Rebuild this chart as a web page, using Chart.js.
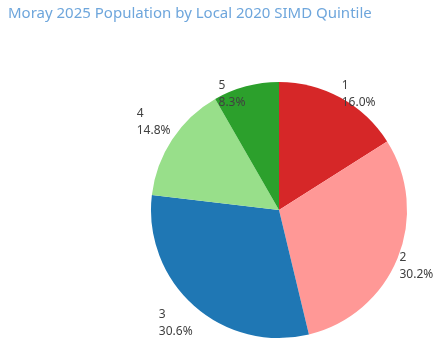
<!DOCTYPE html>
<html>
<head>
<meta charset="utf-8">
<script src="https://cdn.jsdelivr.net/npm/chart.js@4"></script>
<style>
  html, body { margin: 0; padding: 0; background: #fff; }
  #wrap { width: 447px; height: 349px; position: relative; }
</style>
</head>
<body>
<div id="wrap"><canvas id="myChart"></canvas></div>
<script>
const titulo = "Moray 2025 Population by Local 2020 SIMD Quintile"
const quintiles = ["1", "2", "3", "4", "5"]
const porcentajes = [16.0, 30.2, 30.6, 14.8, 8.3]
const colores = ["#d62728", "#ff9896", "#1f77b4", "#98df8a", "#2ca02c"]

// title in the top left corner, outside the chart area
const tituloPlugin = {
    id: "tituloPlugin",
    afterDraw(chart) {
        const ctx = chart.ctx
        ctx.save()
        ctx.font = "15px 'Noto Sans'"
        ctx.fillStyle = "#6ea6dc"
        ctx.textAlign = "left"
        ctx.textBaseline = "alphabetic"
        ctx.fillText(titulo, 8, 18)
        ctx.restore()
    }
}

// "quintile / percent" labels next to each slice
const etiquetasPlugin = {
    id: "etiquetasPlugin",
    afterDatasetsDraw(chart) {
        const ctx = chart.ctx
        const meta = chart.getDatasetMeta(0)
        const lineH = 17
        ctx.save()
        ctx.font = "12px 'Noto Sans'"
        ctx.fillStyle = "#404040"
        ctx.textBaseline = "top"
        meta.data.forEach((arc, i) => {
            const ang = (arc.startAngle + arc.endAngle) / 2
            const r = arc.outerRadius
            const lineas = [quintiles[i], porcentajes[i].toFixed(1) + "%"]
            const ancho = Math.max(...lineas.map(t => ctx.measureText(t).width))
            const alto = lineH * lineas.length
            const ax = arc.x + Math.cos(ang) * (r + 2)
            let cy = arc.y + Math.sin(ang) * (r + 27)
            let top = cy - alto / 2
            const techo = arc.y - r - 2
            if (top < techo) top = techo
            const left = Math.cos(ang) >= 0 ? ax : ax - ancho
            lineas.forEach((t, j) => {
                ctx.textAlign = "left"
                ctx.fillText(t, left, top + j * lineH)
            })
        })
        ctx.restore()
    }
}

const config = {
    type: "pie",
    data: {
        labels: quintiles,
        datasets: [{
            data: porcentajes,
            backgroundColor: colores,
            borderWidth: 0
        }]
    },
    options: {
        responsive: true,
        maintainAspectRatio: false,
        animation: false,
        layout: { padding: { left: 151, right: 40, top: 82, bottom: 11 } },
        plugins: {
            legend: { display: false },
            tooltip: { enabled: false }
        }
    },
    plugins: [tituloPlugin, etiquetasPlugin]
}

const chartDOM = document.getElementById("myChart")
window.grafica = new Chart(chartDOM, config)
</script>
</body>
</html>
